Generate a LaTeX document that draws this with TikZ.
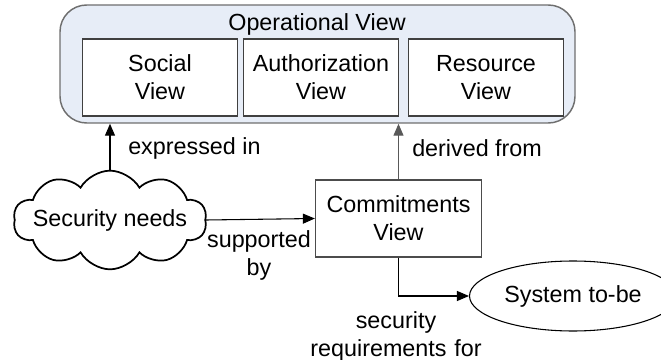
\documentclass[tikz,border=0pt]{standalone}
\usepackage{fontspec}
\setmainfont{Liberation Sans}
\usetikzlibrary{shapes.geometric, shapes.symbols, arrows.meta}
\definecolor{opfill}{HTML}{E7EDF7}
\definecolor{opline}{HTML}{6F6F6F}
\tikzstyle{outer} = [rectangle, rounded corners=20pt, minimum width=386.25pt, minimum height=88.5pt, draw=opline, line width=1.1pt, fill=opfill]
\tikzstyle{view} = [rectangle, minimum width=115.5pt, minimum height=57.75pt, text width=110pt, text centered, draw=black!75, fill=white, line width=0.8pt]
\tikzstyle{commit} = [rectangle, minimum width=123.75pt, minimum height=57.75pt, text width=118pt, text centered, draw=black!70, line width=0.8pt]
\tikzstyle{needs} = [cloud, cloud puffs=10, cloud puff arc=120, aspect=2, minimum width=145pt, minimum height=74pt, draw=black, line width=1.3pt, inner sep=0pt]
\tikzstyle{system} = [ellipse, minimum width=120pt, minimum height=52.5pt, draw=black, line width=0.8pt]
\tikzstyle{lbl} = [text centered, inner sep=0pt]
\tikzstyle{arrow} = [line width=0.8pt, -{Triangle[length=9pt,width=7.5pt]}]

\begin{document}
\begin{tikzpicture}[x=0.75pt, y=-0.75pt, font=\fontsize{17.5}{21}\selectfont]
\useasboundingbox (0,0) rectangle (661,360);

\node (opview) [outer] at (317.5,64) {};
\node (optitle) [lbl] at (317,24) {Operational View};
\node (social) [view] at (160,77.5) {Social\\View};
\node (authz) [view] at (321,77.5) {Authorization\\View};
\node (resource) [view] at (486,77.5) {Resource\\View};

\node (secneeds) [needs, label=center:Security needs] at (110,220) {};
\node (commitview) [commit] at (398.5,218.5) {Commitments\\View};
\node (systobe) [system] at (573,296) {System to-be};

\node (expressed) [lbl, anchor=west] at (128,148) {expressed in};
\node (derived) [lbl, anchor=west] at (412,148) {derived from};
\node (supported) [lbl, text width=110pt] at (259,255) {supported\\by};
\node (secreq) [lbl, text width=180pt] at (396,336) {security\\requirements for};

\draw [arrow] (secneeds.north) -- (secneeds.north |- opview.south);
\draw [arrow, draw=black!65] (commitview.north) -- (commitview.north |- opview.south);
\draw [arrow] (secneeds.east) -- (commitview.west);
\draw [arrow] (commitview.south) |- (systobe.west);

\end{tikzpicture}
\end{document}
